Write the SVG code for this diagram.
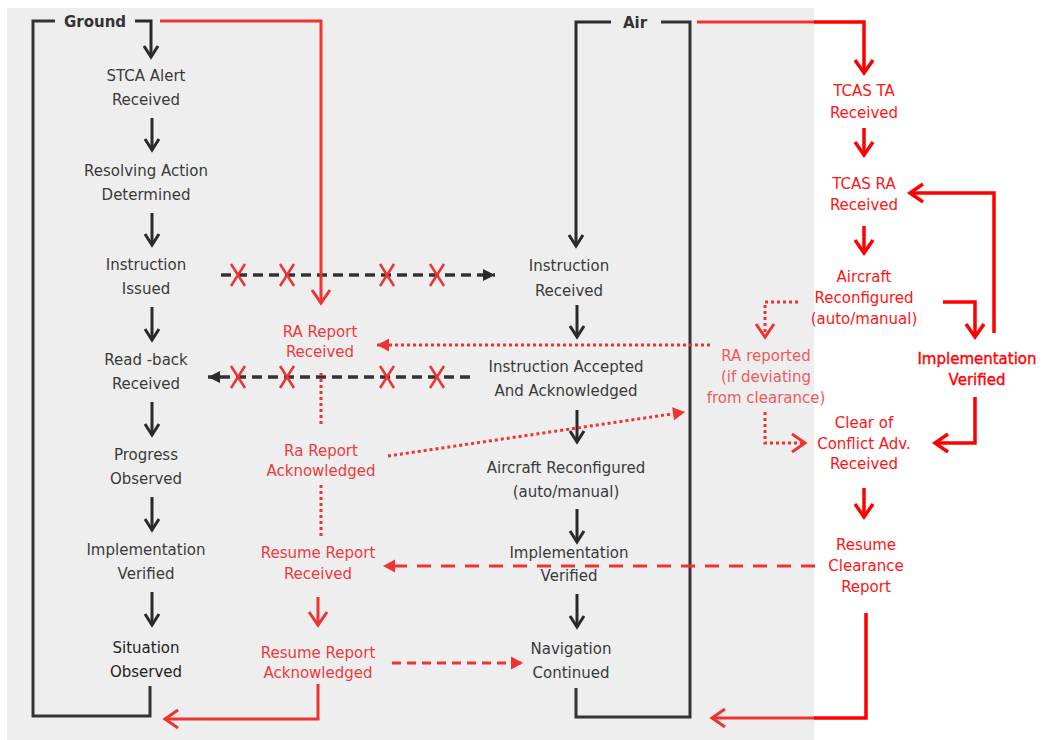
<svg xmlns="http://www.w3.org/2000/svg" width="1044" height="740" viewBox="0 0 1044 740">
<style>
text{font-family:"DejaVu Sans","Liberation Sans",Arial,sans-serif;font-size:15px;text-anchor:middle}
.k{fill:#3a3a3a}
.kd{fill:#222}
.hd{fill:#333;font-weight:bold}
.rm{fill:#ee3a3f}
.rr{fill:#ff1414}
.rl{fill:#ef5a5e}
.rb{fill:#ff0000;stroke:#ff0000;stroke-width:0.35}
.lk{fill:none;stroke:#333;stroke-width:3}
.ak{fill:none;stroke:#2a2a2a;stroke-width:3;marker-end:url(#chK)}
.lr{fill:none;stroke:#ee3333;stroke-width:3}
.lR{fill:none;stroke:#ff0000;stroke-width:3.5}
.dk{fill:none;stroke:#333;stroke-width:3.5;stroke-dasharray:10 6}
.dot{fill:none;stroke:#ee3333;stroke-width:3;stroke-dasharray:3 3}
.dsh{fill:none;stroke:#ee3333;stroke-width:3;stroke-dasharray:14 10}
.dsh2{fill:none;stroke:#ee3333;stroke-width:3;stroke-dasharray:9 6}
.x{stroke:#ee3333;stroke-width:2.5;fill:none}
</style>
<defs>
<marker id="chK" markerUnits="userSpaceOnUse" markerWidth="30" markerHeight="30" refX="0" refY="0" orient="auto" overflow="visible"><path d="M-11,-7 L0,0 L-11,7" fill="none" stroke="#2a2a2a" stroke-width="3"/></marker>
<marker id="chr" markerUnits="userSpaceOnUse" markerWidth="30" markerHeight="30" refX="0" refY="0" orient="auto" overflow="visible"><path d="M-13,-9 L0,0 L-13,9" fill="none" stroke="#ee3333" stroke-width="3"/></marker>
<marker id="chR" markerUnits="userSpaceOnUse" markerWidth="30" markerHeight="30" refX="0" refY="0" orient="auto" overflow="visible"><path d="M-13,-9 L0,0 L-13,9" fill="none" stroke="#ff0000" stroke-width="3.5"/></marker>
<marker id="tK" markerUnits="userSpaceOnUse" markerWidth="30" markerHeight="30" refX="0" refY="0" orient="auto" overflow="visible"><path d="M-12,-6 L0,0 L-12,6 Z" fill="#2a2a2a"/></marker>
<marker id="tr" markerUnits="userSpaceOnUse" markerWidth="30" markerHeight="30" refX="0" refY="0" orient="auto" overflow="visible"><path d="M-12,-6.5 L0,0 L-12,6.5 Z" fill="#ee3333"/></marker>
</defs>
<rect x="7" y="8" width="807" height="732" fill="#eeeeee"/>

<g id="connectors">
<path class="lk" d="M55,21 H33 V716 H150 V686"/>
<path class="ak" d="M135,21 H151 V57"/>
<path class="ak" d="M611,22 H576 V246"/>
<path class="lk" d="M661,22 H690 V717 H576 V688"/>
<path class="ak" d="M152,118 V150"/>
<path class="ak" d="M152,213 V245"/>
<path class="ak" d="M152,307 V340"/>
<path class="ak" d="M152,402 V435"/>
<path class="ak" d="M152,497 V530"/>
<path class="ak" d="M152,592 V625"/>
<path class="ak" d="M577,305 V337"/>
<path class="ak" d="M577,410 V442"/>
<path class="ak" d="M577,509 V542"/>
<path class="ak" d="M577,594 V627"/>
<path class="dk" d="M221,275 H495" marker-end="url(#tK)"/>
<path class="dk" d="M470,377 H208" marker-end="url(#tK)"/>
<g class="x">
<path d="M231,264 L245,286 M245,264 L231,286"/>
<path d="M280,264 L294,286 M294,264 L280,286"/>
<path d="M380,264 L394,286 M394,264 L380,286"/>
<path d="M430,264 L444,286 M444,264 L430,286"/>
<path d="M231,366 L245,388 M245,366 L231,388"/>
<path d="M280,366 L294,388 M294,366 L280,388"/>
<path d="M380,366 L394,388 M394,366 L380,388"/>
<path d="M430,366 L444,388 M444,366 L430,388"/>
</g>
<path class="lr" d="M160,21 H321 V303" marker-end="url(#chr)"/>
<path class="lr" d="M697,22 H814"/>
<path class="lR" d="M814,22 H864 V73" marker-end="url(#chR)"/>
<path class="lR" d="M864,128 V155" marker-end="url(#chR)"/>
<path class="lR" d="M864,226 V253" marker-end="url(#chR)"/>
<path class="lR" d="M943,302 H975 V337" marker-end="url(#chR)"/>
<path class="lR" d="M994,333 V193 H910" marker-end="url(#chR)"/>
<path class="lR" d="M975,397 V443 H935" marker-end="url(#chR)"/>
<path class="lR" d="M864,488 V517" marker-end="url(#chR)"/>
<path class="lR" d="M866,613 V718 H814"/>
<path class="lr" d="M814,718 H712" marker-end="url(#chr)"/>
<path class="dot" d="M798,302 H765 V337" marker-end="url(#chr)"/>
<path class="dot" d="M765,412 V443 H805" marker-end="url(#chr)"/>
<path class="dot" d="M710,345 H377" marker-end="url(#tr)"/>
<path class="dot" d="M321,373 V427"/>
<path class="dot" d="M321,485 V538"/>
<path class="dot" d="M388,456 L685,412" marker-end="url(#tr)"/>
<path class="dsh" d="M815,566 H383" marker-end="url(#tr)"/>
<path class="dsh2" d="M392,663 H523" marker-end="url(#tr)"/>
<path class="lr" d="M318,597 V625" marker-end="url(#chr)"/>
<path class="lr" d="M318,684 V719 H165" marker-end="url(#chr)"/>
</g>

<g id="label-ground"><text class="hd" x="95" y="27">Ground</text></g>
<g id="label-air"><text class="hd" x="635" y="28">Air</text></g>

<g id="n-stca"><text class="k" x="146" y="81">STCA Alert</text><text class="k" x="146" y="105">Received</text></g>
<g id="n-resolving"><text class="k" x="146" y="176">Resolving Action</text><text class="k" x="146" y="200">Determined</text></g>
<g id="n-issued"><text class="k" x="146" y="270">Instruction</text><text class="k" x="146" y="294">Issued</text></g>
<g id="n-readback"><text class="k" x="146" y="365">Read -back</text><text class="k" x="146" y="389">Received</text></g>
<g id="n-progress"><text class="k" x="146" y="460">Progress</text><text class="k" x="146" y="484">Observed</text></g>
<g id="n-impl-g"><text class="k" x="146" y="555">Implementation</text><text class="k" x="146" y="579">Verified</text></g>
<g id="n-situation"><text class="kd" x="146" y="653">Situation</text><text class="kd" x="146" y="677">Observed</text></g>

<g id="n-instr-rec"><text class="k" x="569" y="271">Instruction</text><text class="k" x="569" y="296">Received</text></g>
<g id="n-instr-acc"><text class="k" x="566" y="372">Instruction Accepted</text><text class="k" x="566" y="396">And Acknowledged</text></g>
<g id="n-ac-reconf"><text class="k" x="566" y="473">Aircraft Reconfigured</text><text class="k" x="566" y="497">(auto/manual)</text></g>
<g id="n-impl-a"><text class="k" x="569" y="558">Implementation</text><text class="k" x="569" y="581">Verified</text></g>
<g id="n-nav"><text class="k" x="571" y="654">Navigation</text><text class="k" x="571" y="678">Continued</text></g>

<g id="n-ra-rec"><text class="rm" x="320" y="337">RA Report</text><text class="rm" x="320" y="357">Received</text></g>
<g id="n-ra-ack"><text class="rm" x="321" y="456">Ra Report</text><text class="rm" x="321" y="476">Acknowledged</text></g>
<g id="n-resume-rec"><text class="rm" x="318" y="558">Resume Report</text><text class="rm" x="318" y="579">Received</text></g>
<g id="n-resume-ack"><text class="rm" x="318" y="658">Resume Report</text><text class="rm" x="318" y="678">Acknowledged</text></g>

<g id="n-ra-reported"><text class="rl" x="766" y="361">RA reported</text><text class="rl" x="766" y="382">(if deviating</text><text class="rl" x="766" y="403">from clearance)</text></g>

<g id="n-tcas-ta"><text class="rr" x="864" y="96">TCAS TA</text><text class="rr" x="864" y="118">Received</text></g>
<g id="n-tcas-ra"><text class="rr" x="864" y="189">TCAS RA</text><text class="rr" x="864" y="210">Received</text></g>
<g id="n-ac-reconf-r"><text class="rr" x="864" y="282">Aircraft</text><text class="rr" x="864" y="303">Reconfigured</text><text class="rr" x="864" y="324">(auto/manual)</text></g>
<g id="n-impl-r"><text class="rb" x="977" y="364">Implementation</text><text class="rb" x="977" y="385">Verified</text></g>
<g id="n-clear"><text class="rr" x="864" y="428">Clear of</text><text class="rr" x="864" y="449">Conflict Adv.</text><text class="rr" x="864" y="469">Received</text></g>
<g id="n-resume-clr"><text class="rr" x="866" y="550">Resume</text><text class="rr" x="866" y="571">Clearance</text><text class="rr" x="866" y="592">Report</text></g>
</svg>
